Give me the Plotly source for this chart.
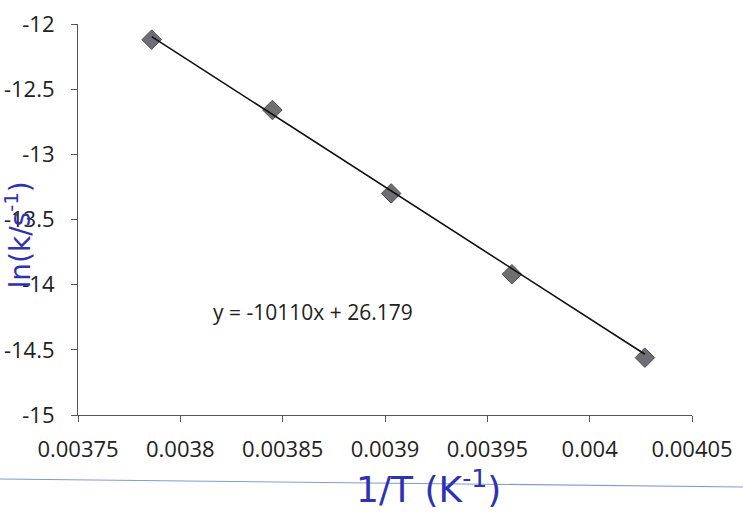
import plotly.graph_objects as go

# Arrhenius data: inverse temperature (1/K) and ln(k)
inv_T = [0.003786, 0.003845, 0.003903, 0.003962, 0.004027]
ln_k = [-12.12, -12.66, -13.30, -13.92, -14.56]

# Linear trendline coefficients (least-squares fit shown on the chart)
SLOPE = -10110
INTERCEPT = 26.179

x_ticks = [0.00375, 0.0038, 0.00385, 0.0039, 0.00395, 0.004, 0.00405]
x_tick_text = ["0.00375", "0.0038", "0.00385", "0.0039", "0.00395", "0.004", "0.00405"]
y_ticks = [-15, -14.5, -14, -13.5, -13, -12.5, -12]
y_tick_text = ["-15", "-14.5", "-14", "-13.5", "-13", "-12.5", "-12"]

FONT = "Open Sans"
INK = "#2e32b4"

fig = go.Figure()

# trendline over the data range, from the fitted equation
x_line = [inv_T[0], inv_T[-1]]
y_line = [SLOPE * v + INTERCEPT for v in x_line]

fig.add_trace(go.Scatter(
    x=inv_T, y=ln_k, mode="markers",
    marker=dict(symbol="diamond", size=15, color="#6e6e74",
                line=dict(color="#4a4a50", width=1)),
    showlegend=False, hoverinfo="x+y",
))
fig.add_trace(go.Scatter(
    x=x_line, y=y_line, mode="lines",
    line=dict(color="#111111", width=1.6),
    showlegend=False, hoverinfo="skip",
))

fig.add_annotation(
    x=0.003865, y=-14.213, xref="x", yref="y",
    text=f"y = {SLOPE}x + {INTERCEPT}",
    showarrow=False, font=dict(family=FONT, size=21, color="#222222"),
)

# hand-written axis labels in blue ink
fig.add_annotation(
    x=(428 - 78) / 614, y=(415 - 462) / 391, xref="paper", yref="paper",
    yanchor="top",
    text="1/T (K<sup>-1</sup>)", showarrow=False,
    font=dict(family="DejaVu Sans", size=36, color=INK),
)
fig.add_annotation(
    x=(-2 - 78) / 614, y=(415 - 235) / 391, xref="paper", yref="paper",
    text="ln(k/s<sup>-1</sup>)", showarrow=False, textangle=-90,
    font=dict(family="DejaVu Sans", size=28, color=INK),
)

# ruled line of the notebook page
fig.add_shape(
    type="line", xref="paper", yref="paper",
    x0=-78 / 614, y0=(415 - 479) / 391, x1=(743 - 78) / 614, y1=(415 - 487) / 391,
    line=dict(color="#7f9bd6", width=1.2),
)

fig.update_xaxes(
    range=[0.00375, 0.00405], tickvals=x_ticks, ticktext=x_tick_text,
    showgrid=False, zeroline=False, showline=True, linecolor="#555555", linewidth=1.2,
    ticks="outside", ticklen=6, tickcolor="#555555", tickwidth=1,
    ticklabelstandoff=8, automargin=False,
    tickfont=dict(family=FONT, size=22, color="#222222"),
)
fig.update_yaxes(
    range=[-15, -12], tickvals=y_ticks, ticktext=y_tick_text,
    showgrid=False, zeroline=False, showline=True, linecolor="#555555", linewidth=1.2,
    ticks="outside", ticklen=6, tickcolor="#555555", tickwidth=1,
    ticklabelstandoff=12, automargin=False,
    tickfont=dict(family=FONT, size=22, color="#222222"),
)

fig.update_layout(
    width=743, height=529,
    margin=dict(l=78, r=51, t=24, b=114),
    paper_bgcolor="white", plot_bgcolor="white",
)

fig.write_html("out.html")
